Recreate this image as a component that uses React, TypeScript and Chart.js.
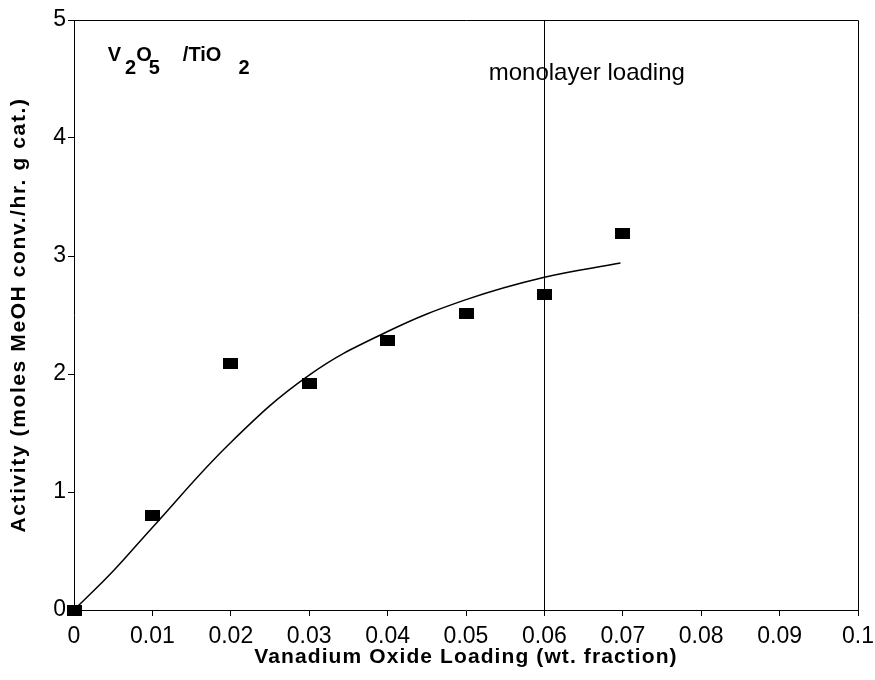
import React, { useEffect, useRef } from "react";
import { Chart, registerables } from "chart.js";

Chart.register(...registerables);

// Measured data points (wt. fraction, activity)
const loadings = [0, 0.01, 0.02, 0.03, 0.04, 0.05, 0.06, 0.07];
const activities = [0, 0.8, 2.09, 1.92, 2.28, 2.51, 2.67, 3.19];

// Fitted curve
const curveX = [0, 0.005, 0.01, 0.02, 0.03, 0.04, 0.05, 0.06, 0.0697];
const curveY = [0, 0.33, 0.7, 1.42, 1.99, 2.36, 2.63, 2.82, 2.94];

const xTickLabels = ["0", "0.01", "0.02", "0.03", "0.04", "0.05", "0.06", "0.07", "0.08", "0.09", "0.1"];
const yTickLabels = ["0", "1", "2", "3", "4", "5"];

const monolayerLoading = 0.06;
const monolayerText = "monolayer loading";
const xTitle = "Vanadium Oxide Loading (wt. fraction)";
const yTitle = "Activity (moles MeOH conv./hr. g cat.)";
// label parts: text, is subscript
const catalystLabel: [string, boolean][] = [
  ["V", false],
  ["2", true],
  ["O", false],
  ["5", true],
  ["/TiO", false],
  ["2", true],
];

const FONT = "'Liberation Sans', Arial, Helvetica, sans-serif";

export default function App() {
  const ref = useRef<HTMLCanvasElement>(null);

  useEffect(() => {
    const canvas = ref.current;
    if (!canvas) return;

    const marker = document.createElement("canvas");
    marker.width = 15;
    marker.height = 11;
    const mctx = marker.getContext("2d")!;
    mctx.fillStyle = "#000";
    mctx.fillRect(0, 0, 15, 11);

    const decorations = {
      id: "decorations",
      beforeDatasetsDraw(chart: any) {
        const { ctx, chartArea, scales } = chart;
        ctx.save();
        ctx.strokeStyle = "#000";
        ctx.lineWidth = 1;
        // frame
        ctx.beginPath();
        ctx.moveTo(chartArea.left, chartArea.top + 0.5);
        ctx.lineTo(chartArea.right + 0.5, chartArea.top + 0.5);
        ctx.lineTo(chartArea.right + 0.5, chartArea.bottom);
        ctx.stroke();
        // monolayer line
        const mx = Math.round(scales.x.getPixelForValue(monolayerLoading)) + 0.5;
        ctx.beginPath();
        ctx.moveTo(mx, chartArea.top);
        ctx.lineTo(mx, chartArea.bottom);
        ctx.stroke();

        ctx.fillStyle = "#000";
        ctx.textBaseline = "alphabetic";
        ctx.textAlign = "left";
        // monolayer text
        ctx.font = `24px ${FONT}`;
        ctx.fillText(monolayerText, scales.x.getPixelForValue(0.0529), scales.y.getPixelForValue(4.49));

        // V2O5/TiO2 label
        const gaps = [4, 0, -3, 23, 17, 0];
        let x = scales.x.getPixelForValue(0.0043);
        const base = scales.y.getPixelForValue(4.655);
        ctx.font = `bold 20px ${FONT}`;
        catalystLabel.forEach(([t, isSub], i) => {
          ctx.fillText(t, x, isSub ? base + 13 : base);
          x += ctx.measureText(t).width + gaps[i];
        });

        // axis titles
        ctx.textAlign = "center";
        ctx.textBaseline = "middle";
        (ctx as any).letterSpacing = "1.1px";
        ctx.font = `bold 21px ${FONT}`;
        ctx.fillText(xTitle, (chartArea.left + chartArea.right) / 2, 657);
        ctx.translate(19, (chartArea.top + chartArea.bottom) / 2);
        ctx.rotate(-Math.PI / 2);
        (ctx as any).letterSpacing = "1.6px";
        ctx.fillText(yTitle, 0, 0);
        ctx.restore();
      },
    };

    const chart = new Chart(canvas, {
      type: "scatter",
      data: {
        datasets: [
          {
            type: "line",
            data: curveX.map((x, i) => ({ x, y: curveY[i] })),
            borderColor: "#000",
            borderWidth: 1.5,
            pointRadius: 0,
            tension: 0.4,
            fill: false,
            clip: false as any,
          },
          {
            data: loadings.map((x, i) => ({ x, y: activities[i] })),
            pointStyle: marker as any,
            backgroundColor: "#000",
            borderColor: "#000",
            clip: false as any,
          },
        ],
      },
      options: {
        animation: false,
        responsive: false,
        devicePixelRatio: 1,
        layout: { padding: { top: 20, right: 17, left: 0, bottom: 0 } },
        plugins: { legend: { display: false }, tooltip: { enabled: false } },
        scales: {
          x: {
            type: "linear",
            min: 0,
            max: 0.1,
            afterFit: (s: any) => {
              s.height = 70;
              s.paddingLeft = 0;
              s.paddingRight = 0;
            },
            afterBuildTicks: (s: any) => {
              s.ticks = xTickLabels.map((_, i) => ({ value: i * 0.01 }));
            },
            ticks: {
              autoSkip: false,
              maxRotation: 0,
              color: "#000",
              font: { family: FONT, size: 23 },
              padding: 7,
              callback: (_v: any, i: number) => xTickLabels[i],
            },
            grid: { drawOnChartArea: false, tickLength: 6, color: "#000" },
            border: { color: "#000", width: 1 },
            title: { display: false, text: xTitle },
          },
          y: {
            type: "linear",
            min: 0,
            max: 5,
            afterFit: (s: any) => {
              s.width = 74;
              s.paddingTop = 0;
              s.paddingBottom = 0;
            },
            afterBuildTicks: (s: any) => {
              s.ticks = yTickLabels.map((_, i) => ({ value: i }));
            },
            ticks: {
              color: "#000",
              font: { family: FONT, size: 23 },
              padding: 2,
              callback: (_v: any, i: number) => yTickLabels[i],
            },
            grid: { drawOnChartArea: false, tickLength: 6, color: "#000" },
            border: { color: "#000", width: 1 },
            title: { display: false, text: yTitle },
          },
        },
      },
      plugins: [decorations],
    });

    return () => chart.destroy();
  }, []);

  return (
    <div style={{ position: "absolute", left: 0, top: 0, width: 875, height: 680, background: "#fff" }}>
      <canvas ref={ref} width={875} height={680} style={{ display: "block", width: 875, height: 680 }} />
    </div>
  );
}
